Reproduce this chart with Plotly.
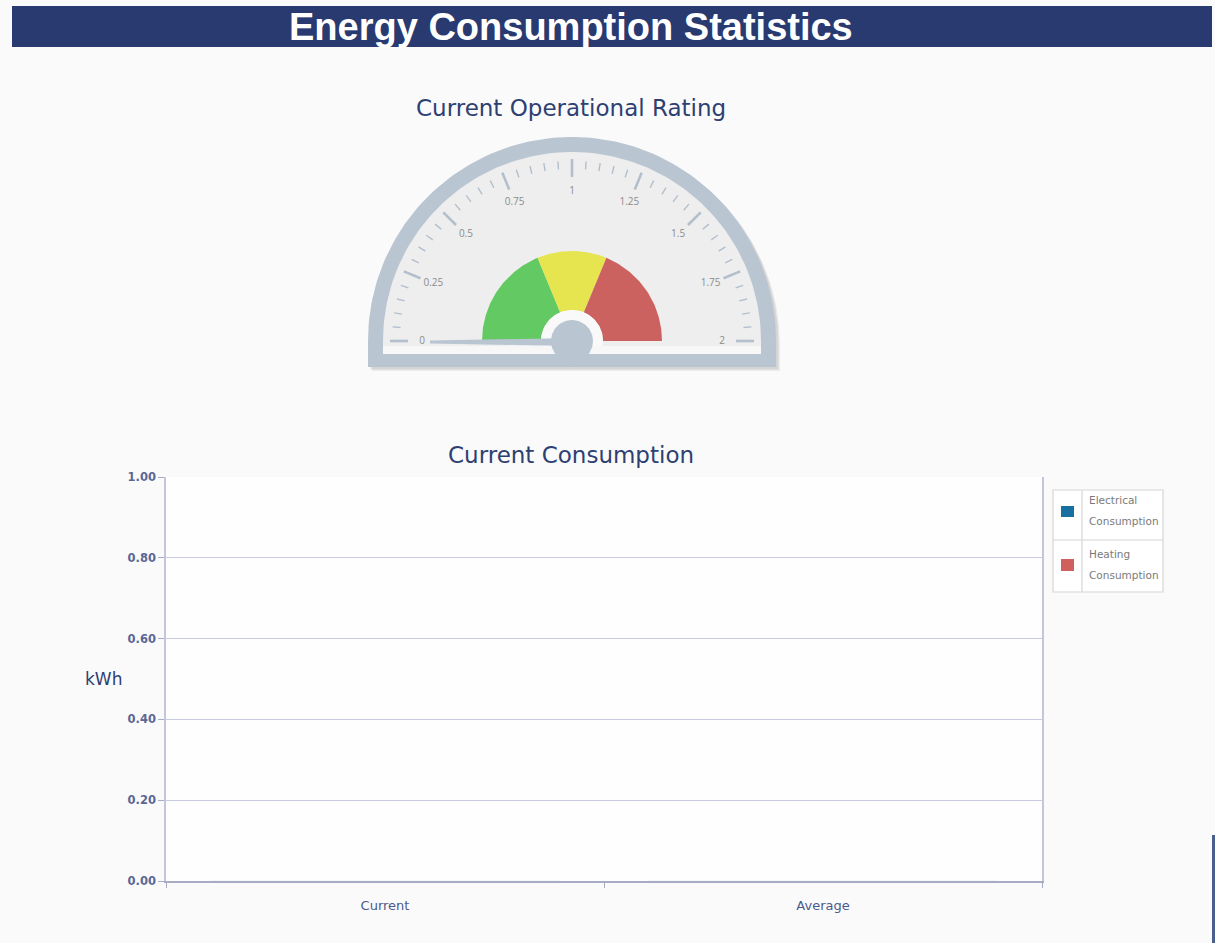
import numpy as np
import plotly.graph_objects as go

# ---------------- data ----------------
categories = ["Current", "Average"]
electrical = [0, 0]
heating = [0, 0]
series_names = ["Electrical Consumption", "Heating Consumption"]
y_tick_vals = [0, 0.2, 0.4, 0.6, 0.8, 1.0]

gauge_value = 0
gauge_min, gauge_max = 0, 2
gauge_major = [0, 0.25, 0.5, 0.75, 1, 1.25, 1.5, 1.75, 2]
gauge_major_labels = ["0", "0.25", "0.5", "0.75", "1", "1.25", "1.5", "1.75", "2"]
gauge_minor_step = 0.05
band_from = [0, 0.75, 1.25]
band_to = [0.75, 1.25, 2]

# ---------------- style / layout ----------------
W, H = 1215, 943
PAGE_BG = "#fafafb"
NAVY = "#283a70"
TEXT_BLUE = "#2e3f72"
RING = "#b9c5d1"
FACE = "#eeeeee"
BAND_COLORS = ["#63c962", "#e6e44f", "#cc6260"]
SERIES_COLORS = ["#17709f", "#d0605e"]
FONT = "DejaVu Sans"

CX, CY = 572, 341
R_OUT, R_IN = 204, 189
BAR_BOTTOM, FACE_BOTTOM = 367, 354
R_BAND_OUT, R_BAND_IN = 90, 31
R_HUB = 21
R_LABEL = 150
R_MAJ = (164, 182)
R_MIN = (172, 180)
R_NEEDLE = 142


def ang(v):
    return np.pi * (1 - (v - gauge_min) / (gauge_max - gauge_min))


def pt(r, a):
    return CX + r * np.cos(a), CY - r * np.sin(a)


def arc(r, v0, v1, n=120):
    a = np.linspace(ang(v0), ang(v1), n)
    return list(CX + r * np.cos(a)), list(CY - r * np.sin(a))


def px(x):
    return x / W


def py(y):
    return 1 - y / H


fig = go.Figure()
GX, GY = "x2", "y2"


def poly(xs, ys, color):
    fig.add_trace(go.Scatter(x=xs, y=ys, fill="toself", mode="lines", line=dict(width=0),
                             fillcolor=color, xaxis=GX, yaxis=GY,
                             hoverinfo="skip", showlegend=False))


# shadow
for off, op in [(4, 0.06), (2.5, 0.09)]:
    xs, ys = arc(R_OUT, gauge_min, gauge_max)
    xs = [x + off for x in xs] + [CX + R_OUT + off, CX - R_OUT + off]
    ys = [y + off for y in ys] + [BAR_BOTTOM + off, BAR_BOTTOM + off]
    poly(xs, ys, f"rgba(0,0,0,{op})")

# outer ring
xs, ys = arc(R_OUT, gauge_min, gauge_max)
poly(xs + [CX + R_OUT, CX - R_OUT], ys + [BAR_BOTTOM, BAR_BOTTOM], RING)
# face
xs, ys = arc(R_IN, gauge_min, gauge_max)
poly(xs + [CX + R_IN, CX - R_IN], ys + [FACE_BOTTOM, FACE_BOTTOM], FACE)
# lighter strip at face bottom
poly([CX - R_IN, CX + R_IN, CX + R_IN, CX - R_IN],
     [CY + 5, CY + 5, FACE_BOTTOM, FACE_BOTTOM], "#f7f7f7")

# ticks
minor_vals = [v for v in np.arange(gauge_min, gauge_max + 1e-9, gauge_minor_step)
              if min(abs(v - m) for m in gauge_major) > 1e-6]
for vals, (r0, r1), w in [(minor_vals, R_MIN, 1.4), (gauge_major, R_MAJ, 2.6)]:
    tx, ty = [], []
    for v in vals:
        a = ang(v)
        x0, y0 = pt(r0, a)
        x1, y1 = pt(r1, a)
        tx += [x0, x1, None]
        ty += [y0, y1, None]
    fig.add_trace(go.Scatter(x=tx, y=ty, mode="lines", line=dict(color="#b3bfcc", width=w),
                             xaxis=GX, yaxis=GY, hoverinfo="skip", showlegend=False))

# tick labels
lx, ly = [], []
for v in gauge_major:
    x, y = pt(R_LABEL, ang(v))
    lx.append(x)
    ly.append(y)
fig.add_trace(go.Scatter(x=lx, y=ly, mode="text", text=gauge_major_labels,
                         textfont=dict(family="Open Sans", size=10, color="#8c8c8c"),
                         xaxis=GX, yaxis=GY, hoverinfo="skip", showlegend=False))

# bands
for v0, v1, c in zip(band_from, band_to, BAND_COLORS):
    ox, oy = arc(R_BAND_OUT, v0, v1, 60)
    ix, iy = arc(R_BAND_IN, v1, v0, 30)
    poly(ox + ix, oy + iy, c)

# white collar (upper half, down to the strip)
cx_, cy_ = arc(R_BAND_IN, gauge_min, gauge_max, 60)
poly(cx_ + [CX + R_BAND_IN, CX - R_BAND_IN], cy_ + [CY + 5, CY + 5], "#f9f9f9")

# needle
na = ang(gauge_value)
perp = na + np.pi / 2
bx1, by1 = pt(4, perp)
bx2, by2 = pt(-4, perp)
tipx, tipy = pt(R_NEEDLE, na)
nx = [bx1, tipx + 1.5 * np.cos(perp), tipx - 1.5 * np.cos(perp), bx2]
ny = [by1 + 1, tipy - 1.5 * np.sin(perp) + 1, tipy + 1.5 * np.sin(perp) + 1, by2 + 1]
poly(nx, ny, RING)
# hub
a = np.linspace(0, 2 * np.pi, 100)
poly(list(CX + R_HUB * np.cos(a)), list(CY - R_HUB * np.sin(a)), RING)

# ---------------- bar chart ----------------
for name, vals, c in zip(series_names, [electrical, heating], SERIES_COLORS):
    fig.add_trace(go.Bar(x=categories, y=vals, name=name, marker_color=c, showlegend=False))

PL, PR, PT, PB = 166, 1042, 477, 881
G_L, G_R, G_T, G_B = 340, 800, 120, 390

fig.update_layout(
    width=W, height=H,
    margin=dict(l=0, r=0, t=0, b=0, pad=0, autoexpand=False),
    paper_bgcolor=PAGE_BG, plot_bgcolor=PAGE_BG,
    barmode="group",
    xaxis=dict(domain=[px(PL), px(PR)], type="category", tickson="boundaries",
               ticks="outside", ticklen=5, tickcolor="#a7abc4", ticklabelstandoff=11,
               showline=True, linecolor="#a7abc4", linewidth=2, showgrid=False,
               automargin=False,
               tickfont=dict(family=FONT, size=13, color="#4b5a8c"), fixedrange=True),
    yaxis=dict(domain=[py(PB), py(PT)], range=[0, 1], tickvals=y_tick_vals, tickformat=".2f",
               showgrid=True, gridcolor="#c8cbe2", gridwidth=1, zeroline=False,
               ticks="outside", ticklen=6, tickcolor="#a7abc4", automargin=False,
               showline=True, mirror=True, linecolor="#c4c7da", linewidth=1.5,
               tickfont=dict(family=FONT, size=11.5, color="#5a6796", weight="bold"),
               fixedrange=True),
    xaxis2=dict(domain=[px(G_L), px(G_R)], range=[G_L, G_R], visible=False, fixedrange=True,
                automargin=False),
    yaxis2=dict(domain=[py(G_B), py(G_T)], range=[G_B, G_T], visible=False, fixedrange=True,
                automargin=False),
    showlegend=False,
)

shapes = [
    dict(type="rect", xref="paper", yref="paper", x0=px(12), x1=px(1212), y0=py(47), y1=py(6),
         fillcolor=NAVY, line=dict(width=0), layer="below"),
    dict(type="rect", xref="paper", yref="paper", x0=px(1212), x1=px(1215), y0=py(943), y1=py(835),
         fillcolor="#4a5f8f", line=dict(width=0), layer="below"),
    dict(type="rect", xref="x domain", yref="y domain", x0=0, x1=1, y0=0, y1=1,
         fillcolor="#fefefe", line=dict(width=0), layer="below"),
    # legend box
    dict(type="rect", xref="paper", yref="paper", x0=px(1053), x1=px(1163), y0=py(592), y1=py(490),
         fillcolor="#ffffff", line=dict(color="#d6d6d6", width=1.2)),
    dict(type="line", xref="paper", yref="paper", x0=px(1082), x1=px(1082), y0=py(592), y1=py(490),
         line=dict(color="#d6d6d6", width=1.2)),
    dict(type="line", xref="paper", yref="paper", x0=px(1053), x1=px(1163), y0=py(540), y1=py(540),
         line=dict(color="#d6d6d6", width=1.2)),
    dict(type="rect", xref="paper", yref="paper", x0=px(1061), x1=px(1074), y0=py(517), y1=py(506),
         fillcolor=SERIES_COLORS[0], line=dict(width=0)),
    dict(type="rect", xref="paper", yref="paper", x0=px(1061), x1=px(1074), y0=py(571), y1=py(559),
         fillcolor=SERIES_COLORS[1], line=dict(width=0)),
]

annotations = [
    dict(text="Energy Consumption Statistics", x=px(571), y=py(27), xref="paper", yref="paper",
         showarrow=False, xanchor="center", yanchor="middle",
         font=dict(family="Arial", size=38, color="#ffffff", weight="bold")),
    dict(text="Current Operational Rating", x=px(571), y=py(108), xref="paper", yref="paper",
         showarrow=False, xanchor="center", yanchor="middle",
         font=dict(family=FONT, size=23, color=TEXT_BLUE)),
    dict(text="Current Consumption", x=px(571), y=py(455), xref="paper", yref="paper",
         showarrow=False, xanchor="center", yanchor="middle",
         font=dict(family=FONT, size=23, color=TEXT_BLUE)),
    dict(text="kWh", x=px(103), y=py(679), xref="paper", yref="paper",
         showarrow=False, xanchor="center", yanchor="middle",
         font=dict(family=FONT, size=17, color=TEXT_BLUE)),
]
leg_lines = [("Electrical", 500), ("Consumption", 521), ("Heating", 554), ("Consumption", 575)]
for t, yy in leg_lines:
    annotations.append(dict(text=t, x=px(1087), y=py(yy), xref="paper", yref="paper",
                            showarrow=False, xanchor="left", yanchor="middle",
                            font=dict(family=FONT, size=10.5, color="#7a7a7a")))

fig.update_layout(shapes=shapes, annotations=annotations)

fig.write_html("out.html", config={"displayModeBar": False},
               post_script="document.body.style.margin='0';document.body.style.overflow='hidden';")
